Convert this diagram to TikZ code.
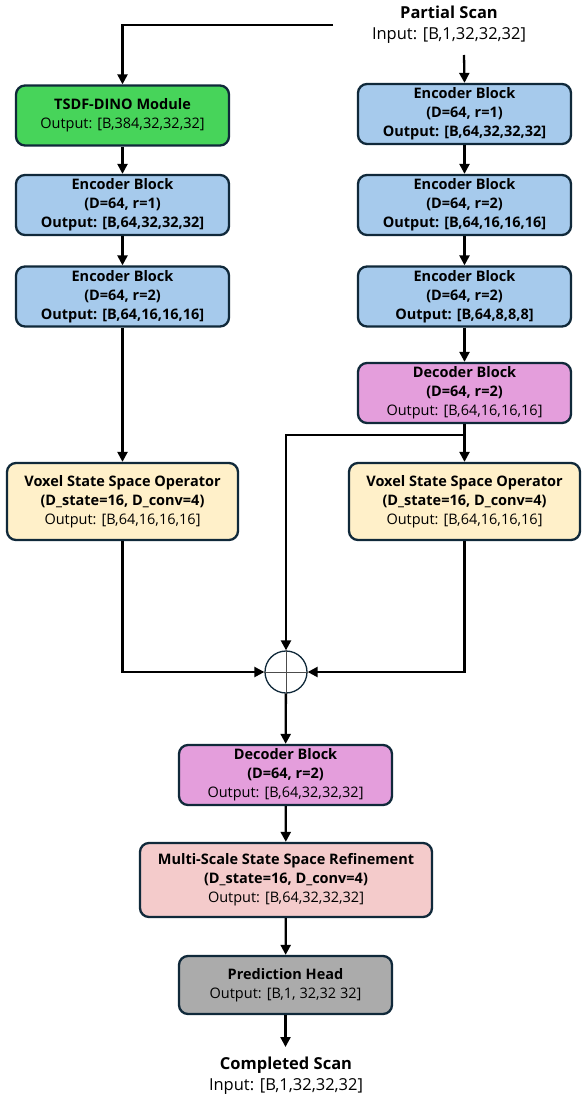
\documentclass[tikz,border=0pt]{standalone}
\usepackage{fontspec}
\setmainfont{Open Sans}
\usetikzlibrary{arrows.meta}
\definecolor{navy}{HTML}{10293A}
\definecolor{cblue}{HTML}{A6CAEC}
\definecolor{cgreen}{HTML}{47D45A}
\definecolor{cyellow}{HTML}{FFF0C9}
\definecolor{cpink}{HTML}{E49EDC}
\definecolor{csalmon}{HTML}{F4CBCB}
\definecolor{cgrey}{HTML}{ABABAB}
\tikzset{
  blk/.style={draw=navy, line width=2.3pt, rounded corners=9pt, align=center,
    minimum width=213pt, minimum height=60pt, inner sep=0pt,
    font=\fontsize{14.5}{19}\selectfont},
  wideblk/.style={blk, minimum width=231pt, minimum height=77pt},
  arr/.style={line width=2.3pt, -{Triangle[length=10pt,width=10pt]}},
  lbl/.style={align=center, inner sep=0pt, font=\fontsize{16.5}{21}\selectfont}
}
\begin{document}
\begin{tikzpicture}[x=1pt,y=-1pt]
\useasboundingbox (0,0) rectangle (587,1102);
% Partial scan
\node[lbl] (ps) at (449,25) {\textbf{Partial Scan}\\Input: [B,1,32,32,32]};
\coordinate (psl) at (333,25);
\coordinate (psout) at (464,55);
% left column
\node[blk, fill=cgreen] (dino) at (122.5,115.5) {\textbf{TSDF-DINO Module}\\Output: [B,384,32,32,32]};
\node[blk, fill=cblue] (le1) at (122.5,205) {\textbf{Encoder Block}\\\textbf{(D=64, r=1)}\\\textbf{Output: [B,64,32,32,32]}};
\node[blk, fill=cblue] (le2) at (122.5,296.5) {\textbf{Encoder Block}\\\textbf{(D=64, r=2)}\\\textbf{Output: [B,64,16,16,16]}};
\node[wideblk, fill=cyellow] (lv) at (122.5,501.5) {\textbf{Voxel State Space Operator}\\\textbf{(D\_state=16, D\_conv=4)}\\Output: [B,64,16,16,16]};
% right column
\node[blk, fill=cblue] (re1) at (464.5,114) {\textbf{Encoder Block}\\\textbf{(D=64, r=1)}\\\textbf{Output: [B,64,32,32,32]}};
\node[blk, fill=cblue] (re2) at (464.5,205) {\textbf{Encoder Block}\\\textbf{(D=64, r=2)}\\\textbf{Output: [B,64,16,16,16]}};
\node[blk, fill=cblue] (re3) at (464.5,296.5) {\textbf{Encoder Block}\\\textbf{(D=64, r=2)}\\\textbf{Output: [B,64,8,8,8]}};
\node[blk, fill=cpink] (rd) at (464.5,393) {\textbf{Decoder Block}\\\textbf{(D=64, r=2)}\\Output: [B,64,16,16,16]};
\node[wideblk, fill=cyellow] (rv) at (464.5,501.5) {\textbf{Voxel State Space Operator}\\\textbf{(D\_state=16, D\_conv=4)}\\Output: [B,64,16,16,16]};
% sum
\node[circle, draw=navy, line width=1.3pt, minimum size=42pt, inner sep=0pt, fill=white] (sum) at (286,672) {};
\draw[line width=0.8pt, black!70] (sum.north) -- (sum.south) (sum.west) -- (sum.east);
% bottom column
\node[blk, fill=cpink] (bd) at (285.5,775) {\textbf{Decoder Block}\\\textbf{(D=64, r=2)}\\Output: [B,64,32,32,32]};
\node[blk, fill=csalmon, minimum width=292pt, minimum height=74pt] (ms) at (286,880) {\textbf{Multi-Scale State Space Refinement}\\\textbf{(D\_state=16, D\_conv=4)}\\Output: [B,64,32,32,32]};
\node[blk, fill=cgrey, minimum height=58pt] (ph) at (285.5,985) {\textbf{Prediction Head}\\Output: [B,1, 32,32 32]};
\node[lbl] (cs) at (286,1076) {\textbf{Completed Scan}\\Input: [B,1,32,32,32]};
\coordinate (br) at (464,435);
\coordinate (phout) at (285.5,1047);
% connectors
\draw[arr] (psl) -| (dino.north);
\draw[arr] (psout) -- (re1.north);
\draw[arr] (dino) -- (le1);
\draw[arr] (le1) -- (le2);
\draw[arr] (le2) -- (lv);
\draw[arr] (re1) -- (re2);
\draw[arr] (re2) -- (re3);
\draw[arr] (re3) -- (rd);
\draw[arr] (rd.south) -- (rv.north);
\draw[arr] (br) -| (sum.north);
\draw[arr] (lv.south) |- (sum.west);
\draw[arr] (rv.south) |- (sum.east);
\draw[arr] (sum) -- (bd);
\draw[arr] (bd) -- (ms);
\draw[arr] (ms) -- (ph);
\draw[arr] (ph.south) -- (phout);
\end{tikzpicture}
\end{document}
